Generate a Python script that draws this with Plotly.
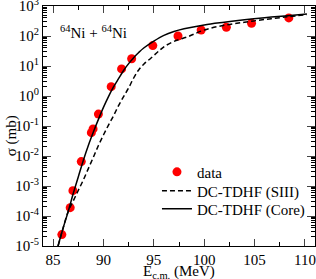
import plotly.graph_objects as go

# experimental data
data_E = [85.87, 86.7, 86.97, 87.8, 88.8, 88.97, 89.5, 90.77, 91.8, 92.8, 94.9,
          97.4, 99.7, 102.2, 104.7, 108.4]
data_sigma = [2.4e-5, 1.9e-4, 7.0e-4, 6.5e-3, 0.06, 0.08, 0.25, 2.05, 8.0, 17.5, 48.0,
              100.0, 158.0, 195.0, 265.0, 400.0]

# DC-TDHF (Core) - solid
core_E = [85.4, 86.0, 86.5, 87.0, 87.5, 88.0, 88.5, 89.0, 89.5, 90.0, 90.5, 91.0, 91.5,
          92.0, 92.5, 93.0, 93.5, 94.0, 95.0, 96.0, 97.0, 98.0, 100.0, 102.0, 104.0,
          106.0, 108.0, 110.2]
core_sigma = [7.9e-6, 4.0e-5, 1.41e-4, 5.6e-4, 2.0e-3, 7.1e-3, 0.0224, 0.063, 0.166, 0.417,
              0.955, 2.0, 3.8, 7.1, 12.0, 19.0, 28.2, 39.8, 67.6, 105.0, 141.0, 174.0,
              234.0, 288.0, 347.0, 407.0, 468.0, 537.0]

# DC-TDHF (SIII) - dashed
siii_E = [85.5, 86.0, 86.5, 87.0, 87.5, 88.0, 88.5, 89.0, 89.5, 90.0, 90.5, 91.0, 91.5,
          92.0, 92.5, 93.0, 93.5, 94.0, 94.7, 95.5, 96.0, 97.0, 98.4, 100.0, 102.0,
          104.0, 106.0, 108.0, 110.2]
siii_sigma = [1.0e-5, 4.0e-5, 1.41e-4, 3.16e-4, 7.1e-4, 1.58e-3, 3.8e-3, 9.1e-3, 0.0224,
              0.050, 0.107, 0.219, 0.479, 0.955, 1.86, 3.98, 7.4, 11.5, 18.2, 31.6,
              43.7, 66.1, 95.5, 158.0, 229.0, 288.0, 355.0, 427.0, 513.0]

y_tickvals = [1e-5, 1e-4, 1e-3, 1e-2, 1e-1, 1e0, 1e1, 1e2, 1e3]
y_ticktext = ["10<sup>-5</sup>", "10<sup>-4</sup>", "10<sup>-3</sup>", "10<sup>-2</sup>",
              "10<sup>-1</sup>", "10<sup>0</sup>", "10<sup>1</sup>", "10<sup>2</sup>",
              "10<sup>3</sup>"]
x_tickvals = [85, 90, 95, 100, 105, 110]

FONT = "Liberation Serif, Times New Roman, serif"

fig = go.Figure()
fig.add_trace(go.Scatter(x=data_E, y=data_sigma, mode="markers", name="data",
                         legend="legend",
                         marker=dict(color="#ff0000", size=9, symbol="circle")))
fig.add_trace(go.Scatter(x=siii_E, y=siii_sigma, mode="lines", name="DC-TDHF (SIII)",
                         legend="legend2",
                         line=dict(color="black", width=1.5, dash="5px,3px", shape="spline")))
fig.add_trace(go.Scatter(x=core_E, y=core_sigma, mode="lines", name="DC-TDHF (Core)",
                         legend="legend3",
                         line=dict(color="black", width=1.5, shape="spline")))

leg_common = dict(xanchor="left", yanchor="middle", bgcolor="rgba(0,0,0,0)",
                  font=dict(size=15, family=FONT), itemwidth=30)

fig.update_layout(
    width=316, height=279,
    margin=dict(l=43, r=1, t=6, b=33, autoexpand=False),
    paper_bgcolor="white", plot_bgcolor="white",
    font=dict(family=FONT, size=15, color="black"),
    showlegend=True,
    legend=dict(x=0.419, y=0.308, **leg_common),
    legend2=dict(x=0.419, y=0.229, **leg_common),
    legend3=dict(x=0.419, y=0.154, **leg_common),
    annotations=[
        dict(text="<sup>64</sup>Ni + <sup>64</sup>Ni", xref="paper", yref="paper",
             x=0.055, y=0.89, xanchor="left", yanchor="middle", showarrow=False,
             font=dict(size=15, family=FONT)),
        dict(text="σ (mb)", xref="paper", yref="paper", x=-0.115, y=0.46,
             xanchor="center", yanchor="middle", textangle=-90, showarrow=False,
             font=dict(size=15, family=FONT)),
        dict(text="E<sub>c.m.</sub> (MeV)", xref="paper", yref="paper", x=0.5, y=-0.064,
             xanchor="center", yanchor="top", showarrow=False,
             font=dict(size=15, family=FONT)),
    ],
)
fig.update_xaxes(range=[84, 111], tickvals=x_tickvals, ticks="inside", ticklen=7,
                 tickwidth=1, showline=True, linecolor="black", linewidth=1, mirror="allticks",
                 showgrid=False, zeroline=False, tickfont=dict(size=15, family=FONT),
                 automargin=False, ticklabeloverflow="allow",
                 minor=dict(dtick=2.5, tick0=85, ticks="inside", ticklen=4, tickcolor="black",
                            showgrid=False))
fig.update_yaxes(type="log", range=[-5, 3.0001], tickvals=y_tickvals, ticktext=y_ticktext,
                 ticks="inside", ticklen=8, tickwidth=1, showline=True, linecolor="black",
                 linewidth=1, mirror="allticks", showgrid=False, zeroline=False,
                 tickfont=dict(size=15, family=FONT), automargin=False,
                 ticklabeloverflow="allow",
                 minor=dict(dtick="D1", ticks="inside", ticklen=4, tickcolor="black",
                            showgrid=False))

fig.write_html("out.html", config={"displayModeBar": False},
               post_script="document.body.style.margin='0';")
